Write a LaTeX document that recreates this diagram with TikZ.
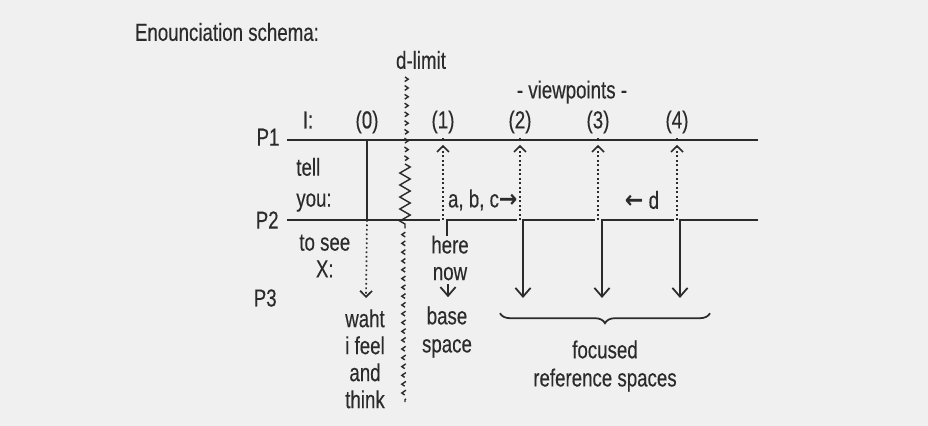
\documentclass[tikz,border=0pt]{standalone}
\usepackage{fontspec}
\setmainfont{Liberation Sans}[FakeStretch=0.76, FakeBold=0.3]
\newfontfamily\arrowfont{DejaVu Sans}[FakeStretch=0.9]
\usetikzlibrary{arrows.meta, decorations.pathmorphing, decorations.pathreplacing}

\definecolor{ink}{gray}{0.17}

\begin{document}
\begin{tikzpicture}[color=ink, font=\fontsize{17.5}{19}\selectfont,
    line/.style={line width=1.25pt},
    look/.style={dotted, line width=1.2pt, -{Straight Barb[length=0.15cm, width=0.3cm, line width=1.2pt]}},
    drop/.style={line width=1.25pt, -{Straight Barb[length=0.22cm, width=0.38cm, line width=1.25pt]}},
    wall/.style={decorate, decoration={zigzag, segment length=0.22cm, amplitude=0.08cm}, line width=1pt}]

    \fill[black!6] (0,0) rectangle (23.2,-10.65);

    \node[anchor=west] (title) at (3.25,-0.8) {Enounciation schema:};
    \node (dlimit) at (10.525,-1.5) {d-limit};
    \node (views) at (14.3,-2.3) {- viewpoints -};

    % the three levels
    \node (p1) at (6.7,-3.43) {P1};
    \node (p2) at (6.68,-5.5) {P2};
    \node (p3) at (6.63,-7.45) {P3};
    \draw[line] (7.175,-3.5) coordinate (p1a) -- (18.95,-3.5) coordinate (p1b);
    \draw[line] (7.175,-5.5) coordinate (p2a) -- (11.0,-5.5) coordinate (p2b);

    \node (i) at (7.7,-3.0) {I:};
    \node[align=left] (tell) at (7.85,-4.62) {tell\\[3pt]you:};
    \node[align=center] (see) at (8.12,-6.4) {to see\\X:};

    % viewpoint columns
    \foreach \n/\x in {0/9.175, 1/11.075, 2/13.0, 3/14.95, 4/16.925} {
        \node (v\n) at (\x,-3.05) {(\n)};
        \coordinate (top\n) at (\x,-3.5);
        \coordinate (mid\n) at (\x,-5.5);
    }

    % (0): the speaker's own space
    \draw[line] (top0) -- (mid0);
    \draw[look] (mid0) -- (9.15,-7.45) coordinate (end0);
    \node[align=center, font=\fontsize{17.5}{19.2}\selectfont] (feel) at (9.125,-8.97) {waht\\i feel\\and\\think};

    % (1)-(4): looking back up to P1
    \foreach \n in {1,...,4} {
        \draw[look] (mid\n) -- ([yshift=-0.12cm]top\n);
        \draw[dotted, line width=1.2pt] (top\n) -- (v\n.south);
    }

    % P2 steps down into the spaces
    \draw[line] (12.92,-5.5) coordinate (s1) -| (11.175,-5.9) coordinate (h1);
    \draw[drop] (14.87,-5.5) coordinate (s2) -| (13.075,-7.45);
    \draw[drop] (16.85,-5.5) coordinate (s3) -| (15.05,-7.45);
    \draw[drop] (18.95,-5.5) coordinate (s4) -| (17.0,-7.45);

    \node[align=center, inner sep=1pt] (here) at (11.25,-6.45) {here\\now};
    \draw[drop] (11.2,-7.1) coordinate (h2) -- (11.2,-7.43) coordinate (h3);
    \node[align=center, font=\fontsize{17.5}{20}\selectfont] (base) at (11.175,-8.3) {base\\space};

    \node (abc) at (12.07,-5.0) {a, b, c{\arrowfont\bfseries →}};
    \node (d) at (16.05,-5.0) {{\arrowfont\bfseries ←} d};

    \draw[line, decorate, decoration={brace, mirror, amplitude=0.25cm}] (12.5,-7.83) coordinate (br1) -- (17.75,-7.83) coordinate (br2);
    \node[align=center, font=\fontsize{17.5}{20}\selectfont] (focus) at (15.125,-9.15) {focused\\reference spaces};

    % the d-limit wall: broken chevrons, solid between P1 and P2
    \coordinate (w1) at (10.125,-1.925);
    \coordinate (w2) at (10.125,-4.1);
    \coordinate (w3) at (10.125,-5.7);
    \coordinate (w4) at (10.125,-10.05);
    \draw[wall, dash pattern=on 6pt off 5.02pt, dash phase=0.245pt] (w1) -- (w2);
    \draw[wall, decoration={amplitude=0.13cm, segment length=0.3cm}] (w2) -- (w3);
    \draw[wall, dash pattern=on 6pt off 5.02pt, dash phase=5.75pt] (w3) -- (w4);
\end{tikzpicture}
\end{document}
